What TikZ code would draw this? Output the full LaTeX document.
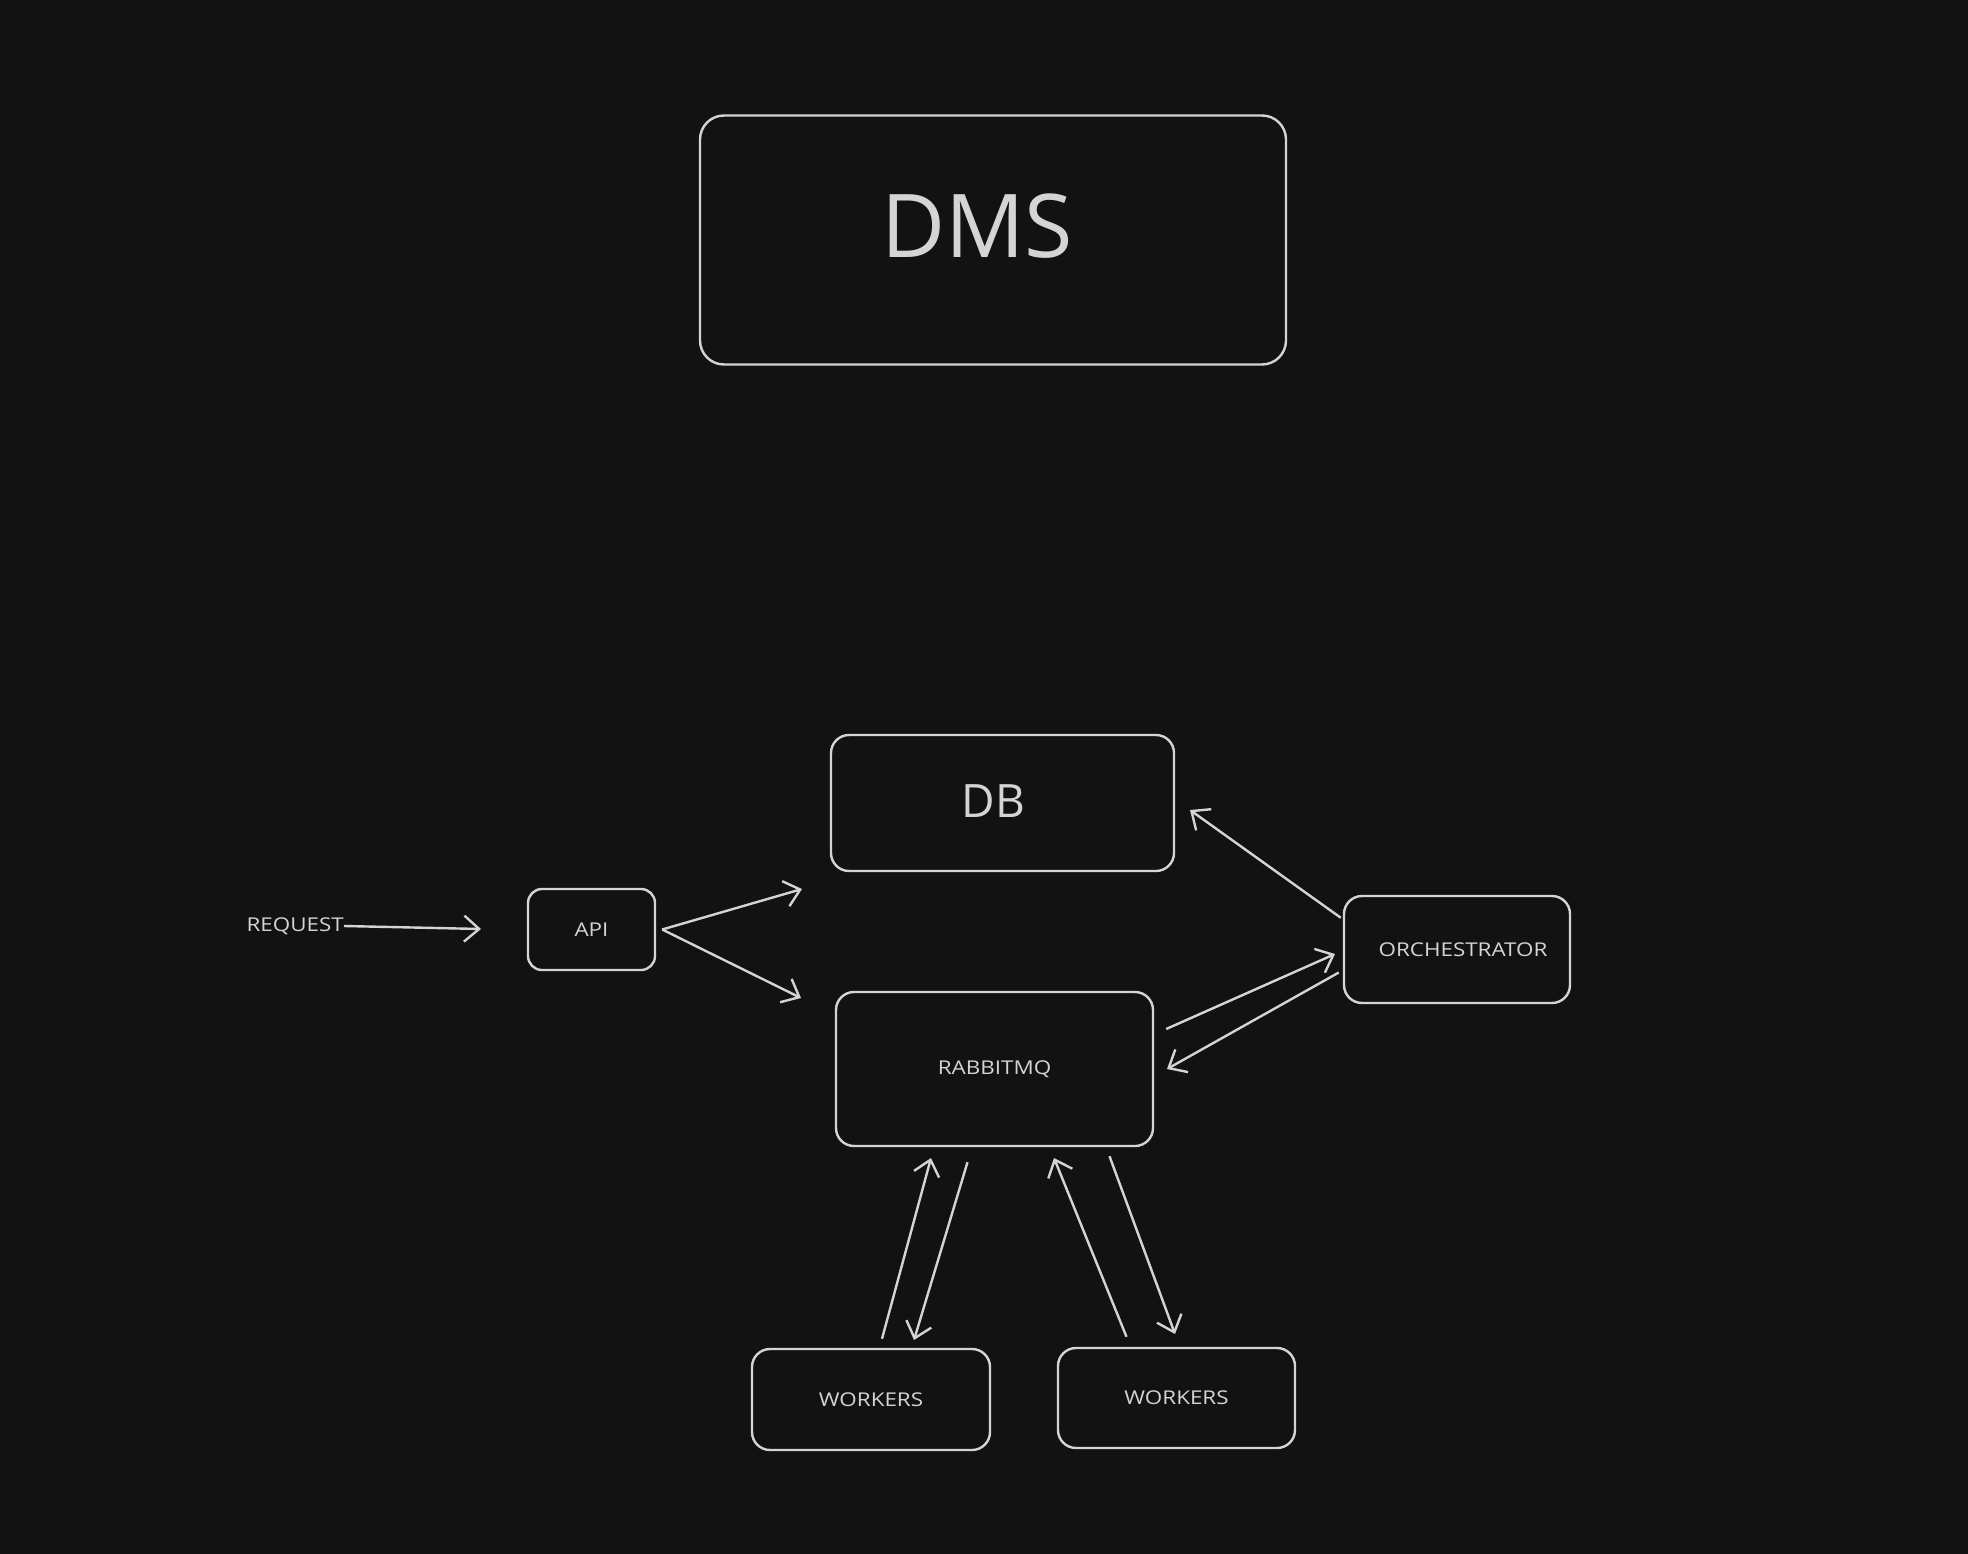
\documentclass[tikz,border=0pt]{standalone}
\usepackage{fontspec}
\setmainfont{Open Sans}
\newfontfamily\labelfont{Open Sans}[FakeStretch=1.18]
\usetikzlibrary{arrows.meta,calc}
\definecolor{bg}{HTML}{121212}
\definecolor{ink}{HTML}{D4D4D4}
\begin{document}
\begin{tikzpicture}[x=1pt,y=-1pt,
  box/.style={draw=ink,line width=2.4pt,rounded corners=18pt,fill=bg,text=ink,inner sep=0pt},
  small/.style={font=\labelfont\fontsize{19}{22}\selectfont},
  conn/.style={draw=ink,line width=2.4pt,-{Straight Barb[length=15pt,width=26pt,line width=2.4pt]}}]
\fill[bg] (0,0) rectangle (1968,1554);
\useasboundingbox (0,0) rectangle (1968,1554);
\node[box,rounded corners=24pt,minimum width=586pt,minimum height=249pt] (dms) at (993,240) {};
\node[text=ink,inner sep=0pt,font=\fontsize{88}{100}\selectfont] (dmstext) at (977,226) {DMS};
\node[box,minimum width=343pt,minimum height=136pt,font=\fontsize{46}{52}\selectfont] (db) at (1002.5,803) {\hspace*{-18pt}\raisebox{3pt}{DB}};
\node[box,rounded corners=14pt,small,minimum width=127pt,minimum height=81pt] (api) at (591.5,929.5) {API};
\node[box,small,minimum width=317pt,minimum height=154pt] (rmq) at (994.5,1069) {RABBITMQ};
\node[box,small,minimum width=226pt,minimum height=107pt] (orch) at (1457,949.5) {\hspace*{12pt}ORCHESTRATOR};
\node[box,small,minimum width=238pt,minimum height=101pt] (w1) at (871,1399.5) {WORKERS};
\node[box,small,minimum width=237pt,minimum height=100pt] (w2) at (1176.5,1398) {WORKERS};
\node[small,text=ink,inner sep=0pt,anchor=east] (req) at (344,926) {REQUEST};
% endpoints
\coordinate (reqend) at (481,929);
\coordinate (apidb) at (802,889);
\coordinate (apirmq) at (801,998);
\coordinate (orchdb) at (1190,810);
\coordinate (rmqorch) at (1335,954);
\coordinate (orchrmq) at (1167,1069);
\coordinate (w1rmq) at (931,1158);
\coordinate (rmqw1) at (914,1340);
\coordinate (w2rmq) at (1054,1158);
\coordinate (rmqw2) at (1175,1334);
\draw[conn] (req.east) -- (reqend);
\draw[conn] ($(api.east)+(6,0)$) -- (apidb);
\draw[conn] ($(api.east)+(6,0)$) -- (apirmq);
\draw[conn] ($(orch.north west)+(-2,23)$) -- (orchdb);
\draw[conn] ($(rmq.east)+(12,-40)$) -- (rmqorch);
\draw[conn] ($(orch.west)+(-4,23)$) -- (orchrmq);
\draw[conn] ($(w1.north)+(11,-9)$) -- (w1rmq);
\draw[conn] ($(rmq.south)+(-27,15)$) -- (rmqw1);
\draw[conn] ($(w2.north)+(-50,-10)$) -- (w2rmq);
\draw[conn] ($(rmq.south)+(115,9)$) -- (rmqw2);
\end{tikzpicture}
\end{document}
